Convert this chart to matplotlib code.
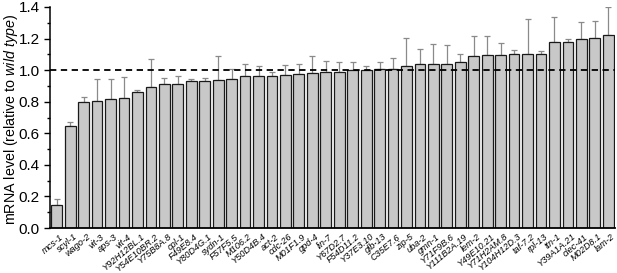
import matplotlib

matplotlib.use("Agg")
import matplotlib.pyplot as plt
import matplotlib.transforms as mtransforms
import numpy as np

plt.rcParams["font.family"] = ["Liberation Sans", "DejaVu Sans"]
plt.rcParams["mathtext.fontset"] = "custom"
plt.rcParams["mathtext.rm"] = "Liberation Sans"
plt.rcParams["mathtext.it"] = "Liberation Sans:italic"

genes = [
    "mcs-1", "scyl-1", "wago-2", "vit-3", "aps-3", "vit-4", "Y92H12BL.1",
    "Y54E10BR.2", "Y75B8A.8", "cpl-1", "F49E8.4", "Y80D4G.1", "sydn-1",
    "F57F5.5", "M106.2", "Y50D4B.4", "act-2", "cdc-26", "M01F1.9", "gpd-4",
    "lin-7", "Y67D2.7", "F54D11.2", "Y37E3.10", "glb-13", "C35E7.6", "zip-5",
    "uba-2", "gmn-1", "Y71F9B.6", "Y111B2A.19", "lem-2", "Y49E10.21",
    "Y71H2AM.8", "Y104H12D.3", "taf-7.2", "rpl-13", "ttn-1", "Y39A1A.21",
    "clec-41", "M02D8.1", "lam-2",
]
level = [
    0.148, 0.646, 0.796, 0.803, 0.816, 0.826, 0.860, 0.896, 0.913, 0.915,
    0.930, 0.932, 0.938, 0.943, 0.960, 0.966, 0.966, 0.968, 0.976, 0.983,
    0.989, 0.989, 0.998, 1.004, 1.010, 1.010, 1.025, 1.038, 1.038, 1.038,
    1.051, 1.089, 1.095, 1.099, 1.101, 1.101, 1.101, 1.178, 1.180, 1.197,
    1.203, 1.224,
]
err = [
    0.038, 0.023, 0.032, 0.142, 0.129, 0.131, 0.017, 0.174, 0.036, 0.051,
    0.013, 0.021, 0.149, 0.063, 0.080, 0.063, 0.023, 0.064, 0.062, 0.104,
    0.066, 0.062, 0.053, 0.021, 0.041, 0.066, 0.178, 0.099, 0.127, 0.119,
    0.053, 0.125, 0.121, 0.072, 0.026, 0.221, 0.020, 0.161, 0.017, 0.108,
    0.106, 0.174,
]

x = np.arange(len(genes))

fig = plt.figure(figsize=(6.17, 2.73), dpi=100)
ax = fig.add_axes([50 / 617, 45 / 273, 565 / 617, 221 / 273])

ax.bar(x, level, width=0.8, color="#c8c8c8", edgecolor="#1a1a1a", linewidth=0.9, zorder=2)
ax.errorbar(x, level, yerr=[np.zeros(len(err)), err], fmt="none", ecolor="#8a8a8a",
            elinewidth=0.9, capsize=2.5, capthick=0.9, zorder=1)
ax.axhline(1.0, color="black", linestyle=(0, (3.5, 2.5)), linewidth=1.3, zorder=3, clip_on=False)

ax.set_xlim(-0.5, len(genes) - 0.5)
ax.set_ylim(0, 1.4)
ax.set_yticks(np.arange(0, 1.41, 0.2))
ax.set_yticks(np.arange(0.1, 1.4, 0.2), minor=True)
ax.yaxis.set_major_formatter(matplotlib.ticker.FormatStrFormatter("%.1f"))
ax.tick_params(axis="y", labelsize=11, length=4, width=1, direction="out")
ax.tick_params(axis="y", which="minor", length=2.5, width=1)
ax.set_xticks(x)
ax.set_xticklabels(genes, rotation=40, ha="right", rotation_mode="anchor",
                   fontsize=6.6, style="italic")
ax.tick_params(axis="x", length=0, pad=3)
shift = mtransforms.ScaledTranslation(3 / 100, 0, fig.dpi_scale_trans)
for lab in ax.get_xticklabels():
    lab.set_transform(lab.get_transform() + shift)

for s in ["top", "right"]:
    ax.spines[s].set_visible(False)
ax.spines["left"].set_linewidth(1.1)
ax.spines["bottom"].set_linewidth(1.3)

ax.set_ylabel(r"mRNA level (relative to $\it{wild\ type}$)", fontsize=10.3)
ax.yaxis.set_label_coords(-0.053, 0.49)

fig.savefig("out.png", dpi=100)
